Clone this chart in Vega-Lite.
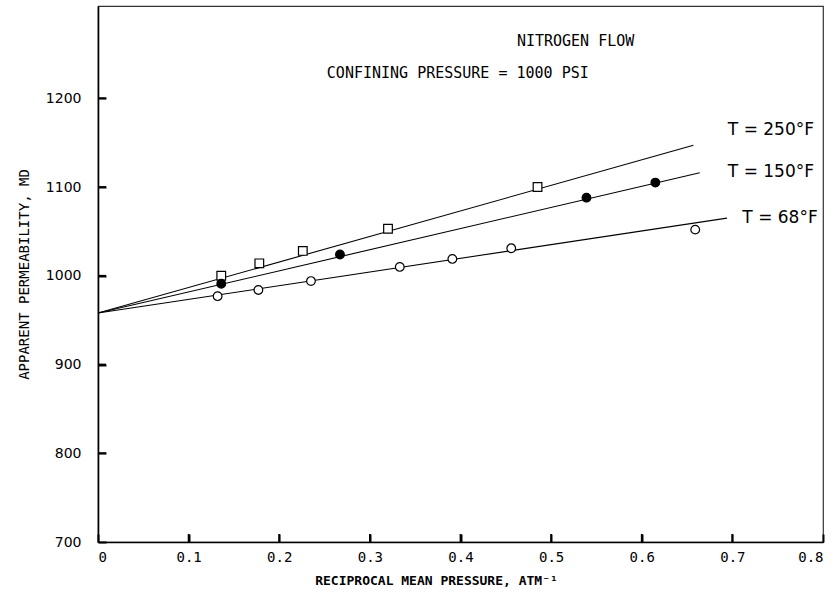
{
  "$schema": "https://vega.github.io/schema/vega-lite/v6.json",
  "width": 725,
  "height": 536,
  "autosize": {"type": "none"},
  "padding": {"left": 98, "top": 6, "right": 12, "bottom": 56},
  "background": "white",
  "config": {
    "view": {"stroke": "#333", "strokeWidth": 1.2},
    "axis": {"domain": true, "domainColor": "black", "domainWidth": 1.6, "grid": false, "labelColor": "black", "titleColor": "black", "ticks": true, "tickColor": "#000000", "tickWidth": 2, "tickOpacity": 1, "tickSize": -8}
  },
  "datasets": {
    "lines": [
      {"x": 0, "y": 958, "series": "250"},
      {"x": 0.657, "y": 1147, "series": "250"},
      {"x": 0, "y": 958, "series": "150"},
      {"x": 0.664, "y": 1116, "series": "150"},
      {"x": 0, "y": 958, "series": "68"},
      {"x": 0.694, "y": 1065, "series": "68"}
    ],
    "points": [
      {"x": 0.136, "y": 1000, "series": "250"},
      {"x": 0.178, "y": 1014, "series": "250"},
      {"x": 0.226, "y": 1028, "series": "250"},
      {"x": 0.320, "y": 1053, "series": "250"},
      {"x": 0.485, "y": 1100, "series": "250"},
      {"x": 0.136, "y": 991, "series": "150"},
      {"x": 0.267, "y": 1024, "series": "150"},
      {"x": 0.539, "y": 1088, "series": "150"},
      {"x": 0.615, "y": 1105, "series": "150"},
      {"x": 0.132, "y": 977, "series": "68"},
      {"x": 0.177, "y": 984, "series": "68"},
      {"x": 0.235, "y": 994, "series": "68"},
      {"x": 0.333, "y": 1010, "series": "68"},
      {"x": 0.391, "y": 1019, "series": "68"},
      {"x": 0.456, "y": 1031, "series": "68"},
      {"x": 0.659, "y": 1052, "series": "68"}
    ],
    "xticks": [
      {"x": 0.1, "y": 700, "y2": 709},
      {"x": 0.2, "y": 700, "y2": 709},
      {"x": 0.3, "y": 700, "y2": 709},
      {"x": 0.4, "y": 700, "y2": 709},
      {"x": 0.5, "y": 700, "y2": 709},
      {"x": 0.6, "y": 700, "y2": 709},
      {"x": 0.7, "y": 700, "y2": 709}
    ],
    "yticks": [
      {"x": 0, "x2": 0.0088, "y": 800},
      {"x": 0, "x2": 0.0088, "y": 900},
      {"x": 0, "x2": 0.0088, "y": 1000},
      {"x": 0, "x2": 0.0088, "y": 1100},
      {"x": 0, "x2": 0.0088, "y": 1200}
    ],
    "labels": [
      {"x": 0.695, "y": 1164, "text": "T = 250°F"},
      {"x": 0.695, "y": 1117, "text": "T = 150°F"},
      {"x": 0.711, "y": 1065, "text": "T = 68°F"}
    ],
    "notes": [
      {"x": 0.527, "y": 1265, "text": "NITROGEN FLOW"},
      {"x": 0.397, "y": 1229, "text": "CONFINING PRESSURE = 1000 PSI"}
    ]
  },
  "encoding": {
    "x": {
      "field": "x", "type": "quantitative",
      "scale": {"domain": [0, 0.8], "nice": false, "zero": false},
      "axis": {
        "values": [0, 0.1, 0.2, 0.3, 0.4, 0.5, 0.6, 0.7, 0.8],
        "format": "~g",
        "ticks": true,
        "tickSize": -8,
        "tickColor": "#000000",
        "tickWidth": 2,
        "labelPadding": 16,
        "labelFont": "DejaVu Sans Mono",
        "labelFontSize": 14,
        "title": "RECIPROCAL MEAN PRESSURE, ATM⁻¹",
        "titleFont": "DejaVu Sans Mono",
        "titleFontSize": 13,
        "titleFontWeight": "bold",
        "titlePadding": 10,
        "titleX": 338
      }
    },
    "y": {
      "field": "y", "type": "quantitative",
      "scale": {"domain": [700, 1304], "nice": false, "zero": false},
      "axis": {
        "values": [700, 800, 900, 1000, 1100, 1200],
        "format": "d",
        "ticks": true,
        "tickSize": -8,
        "tickColor": "#000000",
        "tickWidth": 2,
        "labelPadding": 25,
        "labelFont": "DejaVu Sans",
        "labelFontSize": 14,
        "title": "APPARENT PERMEABILITY, MD",
        "titleFont": "DejaVu Sans Mono",
        "titleFontSize": 14,
        "titleFontWeight": "normal",
        "titlePadding": 14
      }
    }
  },
  "layer": [
    {
      "data": {"name": "xticks"},
      "mark": {"type": "rule", "color": "black", "strokeWidth": 1.8},
      "encoding": {"y2": {"field": "y2"}}
    },
    {
      "data": {"name": "yticks"},
      "mark": {"type": "rule", "color": "black", "strokeWidth": 1.8},
      "encoding": {"x2": {"field": "x2"}}
    },
    {
      "data": {"name": "lines"},
      "mark": {"type": "line", "color": "black", "strokeWidth": 1.1},
      "encoding": {"detail": {"field": "series"}}
    },
    {
      "data": {"name": "points"},
      "mark": {"type": "point", "filled": true, "stroke": "black", "strokeWidth": 1.2, "opacity": 1, "size": 75},
      "encoding": {
        "shape": {"field": "series", "type": "nominal", "scale": {"domain": ["250", "150", "68"], "range": ["square", "circle", "circle"]}, "legend": null},
        "fill": {"field": "series", "type": "nominal", "scale": {"domain": ["250", "150", "68"], "range": ["white", "black", "white"]}, "legend": null}
      }
    },
    {
      "data": {"name": "labels"},
      "mark": {"type": "text", "align": "left", "baseline": "middle", "font": "DejaVu Sans", "fontSize": 17, "color": "black"},
      "encoding": {"text": {"field": "text"}}
    },
    {
      "data": {"name": "notes"},
      "mark": {"type": "text", "align": "center", "baseline": "middle", "font": "DejaVu Sans Mono", "fontSize": 15, "color": "black"},
      "encoding": {"text": {"field": "text"}}
    }
  ]
}
